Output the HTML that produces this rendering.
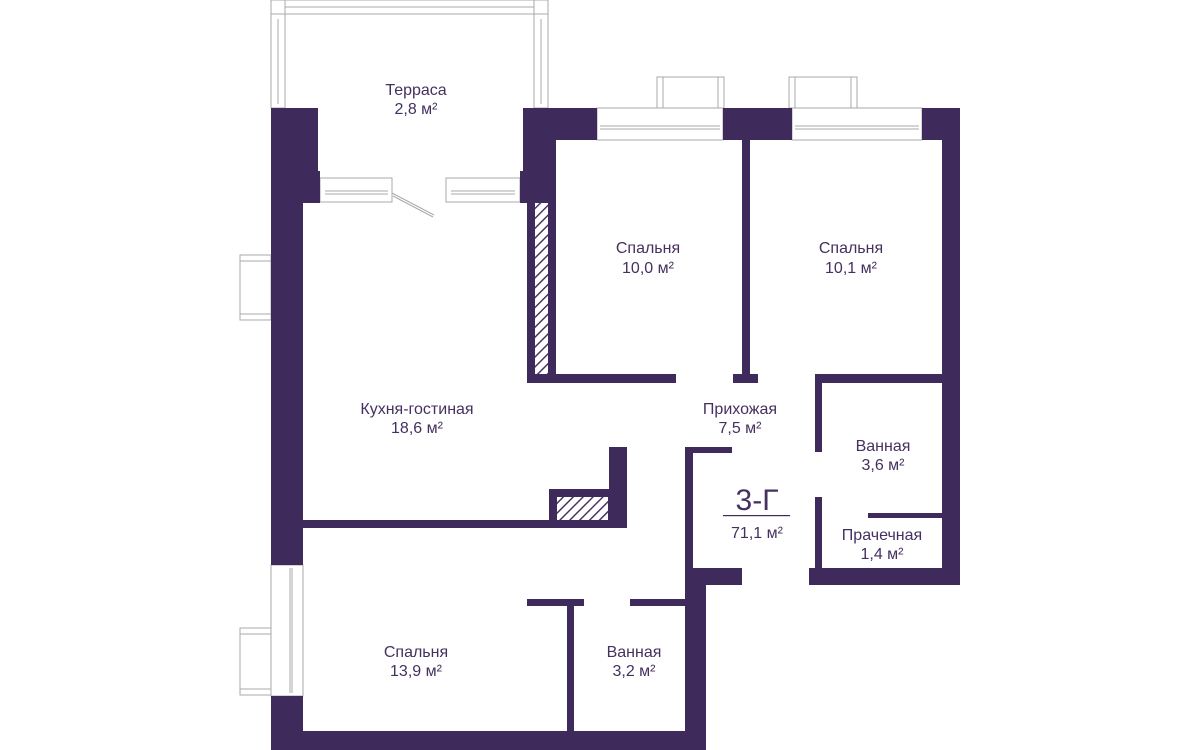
<!DOCTYPE html>
<html><head><meta charset="utf-8"><style>
html,body{margin:0;padding:0;background:#fff;width:1200px;height:750px;overflow:hidden}
text{font-family:"Liberation Sans",sans-serif;fill:#45305f;font-size:16px;text-anchor:middle}
</style></head><body>
<svg width="1200" height="750" viewBox="0 0 1200 750" xmlns="http://www.w3.org/2000/svg">
<defs>
<pattern id="h" width="7" height="7" patternUnits="userSpaceOnUse" patternTransform="rotate(45)">
<rect width="7" height="7" fill="#fff"/><rect width="1.4" height="7" fill="#3f2a5c"/>
</pattern>
</defs>
<g fill="none" stroke="#aaa" stroke-width="1">
<rect x="271" y="0" width="277" height="14"/>
<rect x="285" y="0" width="249" height="14"/>
<line x1="285" y1="7" x2="534" y2="7"/>
<rect x="271" y="14" width="14" height="94"/>
<line x1="278" y1="19" x2="278" y2="104"/>
<rect x="534" y="14" width="14" height="94"/>
<line x1="541" y1="19" x2="541" y2="104"/>
<rect x="320" y="178" width="72" height="24"/>
<line x1="325" y1="191" x2="388" y2="191"/><line x1="325" y1="194" x2="388" y2="194"/>
<rect x="446" y="178" width="74" height="24"/>
<line x1="451" y1="191" x2="515" y2="191"/><line x1="451" y1="194" x2="515" y2="194"/>
<line x1="392" y1="193" x2="434" y2="215"/><line x1="393" y1="196" x2="433" y2="217"/>
<rect x="597" y="108" width="126" height="32"/>
<line x1="600" y1="126" x2="720" y2="126"/><line x1="600" y1="129" x2="720" y2="129"/>
<rect x="657" y="77" width="67" height="31"/><line x1="663" y1="77" x2="663" y2="108"/><line x1="718" y1="77" x2="718" y2="108"/>
<rect x="792" y="108" width="130" height="32"/>
<line x1="795" y1="126" x2="919" y2="126"/><line x1="795" y1="129" x2="919" y2="129"/>
<rect x="789" y="77" width="68" height="31"/><line x1="795" y1="77" x2="795" y2="108"/><line x1="851" y1="77" x2="851" y2="108"/>
<rect x="240" y="255" width="31" height="65"/><line x1="240" y1="261" x2="271" y2="261"/><line x1="240" y1="314" x2="271" y2="314"/>
<rect x="271" y="565" width="32" height="131"/><line x1="290" y1="568" x2="290" y2="693"/><line x1="292" y1="568" x2="292" y2="693"/>
<rect x="240" y="628" width="31" height="67"/><line x1="240" y1="634" x2="271" y2="634"/><line x1="240" y1="689" x2="271" y2="689"/>
</g>
<g fill="#3f2a5c">
<rect x="271" y="108" width="47" height="63"/>
<rect x="271" y="171" width="49" height="32"/>
<rect x="271" y="203" width="32" height="362"/>
<rect x="271" y="696" width="32" height="54"/>
<rect x="523" y="108" width="74" height="32"/>
<rect x="520" y="171" width="36" height="32"/>
<rect x="523" y="140" width="33" height="63"/>
<rect x="527" y="203" width="8" height="180"/>
<rect x="548" y="140" width="8" height="243"/>
<rect x="527" y="374" width="149" height="9"/>
<rect x="723" y="108" width="69" height="32"/>
<rect x="742" y="140" width="8" height="240"/>
<rect x="733" y="374" width="25" height="9"/>
<rect x="922" y="108" width="38" height="32"/>
<rect x="942" y="140" width="18" height="445"/>
<rect x="815" y="374" width="130" height="9"/>
<rect x="815" y="374" width="7" height="78"/>
<rect x="815" y="497" width="7" height="80"/>
<rect x="809" y="568" width="151" height="17"/>
<rect x="868" y="513" width="76" height="5"/>
<rect x="685" y="447" width="47" height="6"/>
<rect x="685" y="447" width="8" height="140"/>
<rect x="685" y="568" width="57" height="17"/>
<rect x="685" y="585" width="21" height="165"/>
<rect x="303" y="520" width="324" height="8"/>
<rect x="609" y="447" width="18" height="81"/>
<rect x="549" y="489" width="62" height="39"/>
<rect x="271" y="731" width="435" height="19"/>
<rect x="567" y="600" width="7" height="131"/>
<rect x="527" y="599" width="57" height="7"/>
<rect x="630" y="599" width="60" height="7"/>
</g>
<rect x="535" y="203" width="13" height="171" fill="url(#h)"/>
<rect x="557" y="497" width="51" height="23" fill="url(#h)"/>
<text x="416" y="95">Терраса</text><text x="416" y="114">2,8 м²</text>
<text x="648" y="253">Спальня</text><text x="648" y="273">10,0 м²</text>
<text x="851" y="253">Спальня</text><text x="851" y="273">10,1 м²</text>
<text x="417" y="414">Кухня-гостиная</text><text x="417" y="433">18,6 м²</text>
<text x="740" y="414">Прихожая</text><text x="740" y="433">7,5 м²</text>
<text x="883" y="451">Ванная</text><text x="883" y="470">3,6 м²</text>
<text x="882" y="540">Прачечная</text><text x="882" y="559">1,4 м²</text>
<text x="757" y="510" style="font-size:30px">3-Г</text>
<rect x="723" y="515" width="67" height="1.2" fill="#3f2a5c"/>
<text x="757" y="538" style="font-size:16px">71,1 м²</text>
<text x="416" y="657">Спальня</text><text x="416" y="676">13,9 м²</text>
<text x="634" y="657">Ванная</text><text x="634" y="676">3,2 м²</text>
</svg>
</body></html>
